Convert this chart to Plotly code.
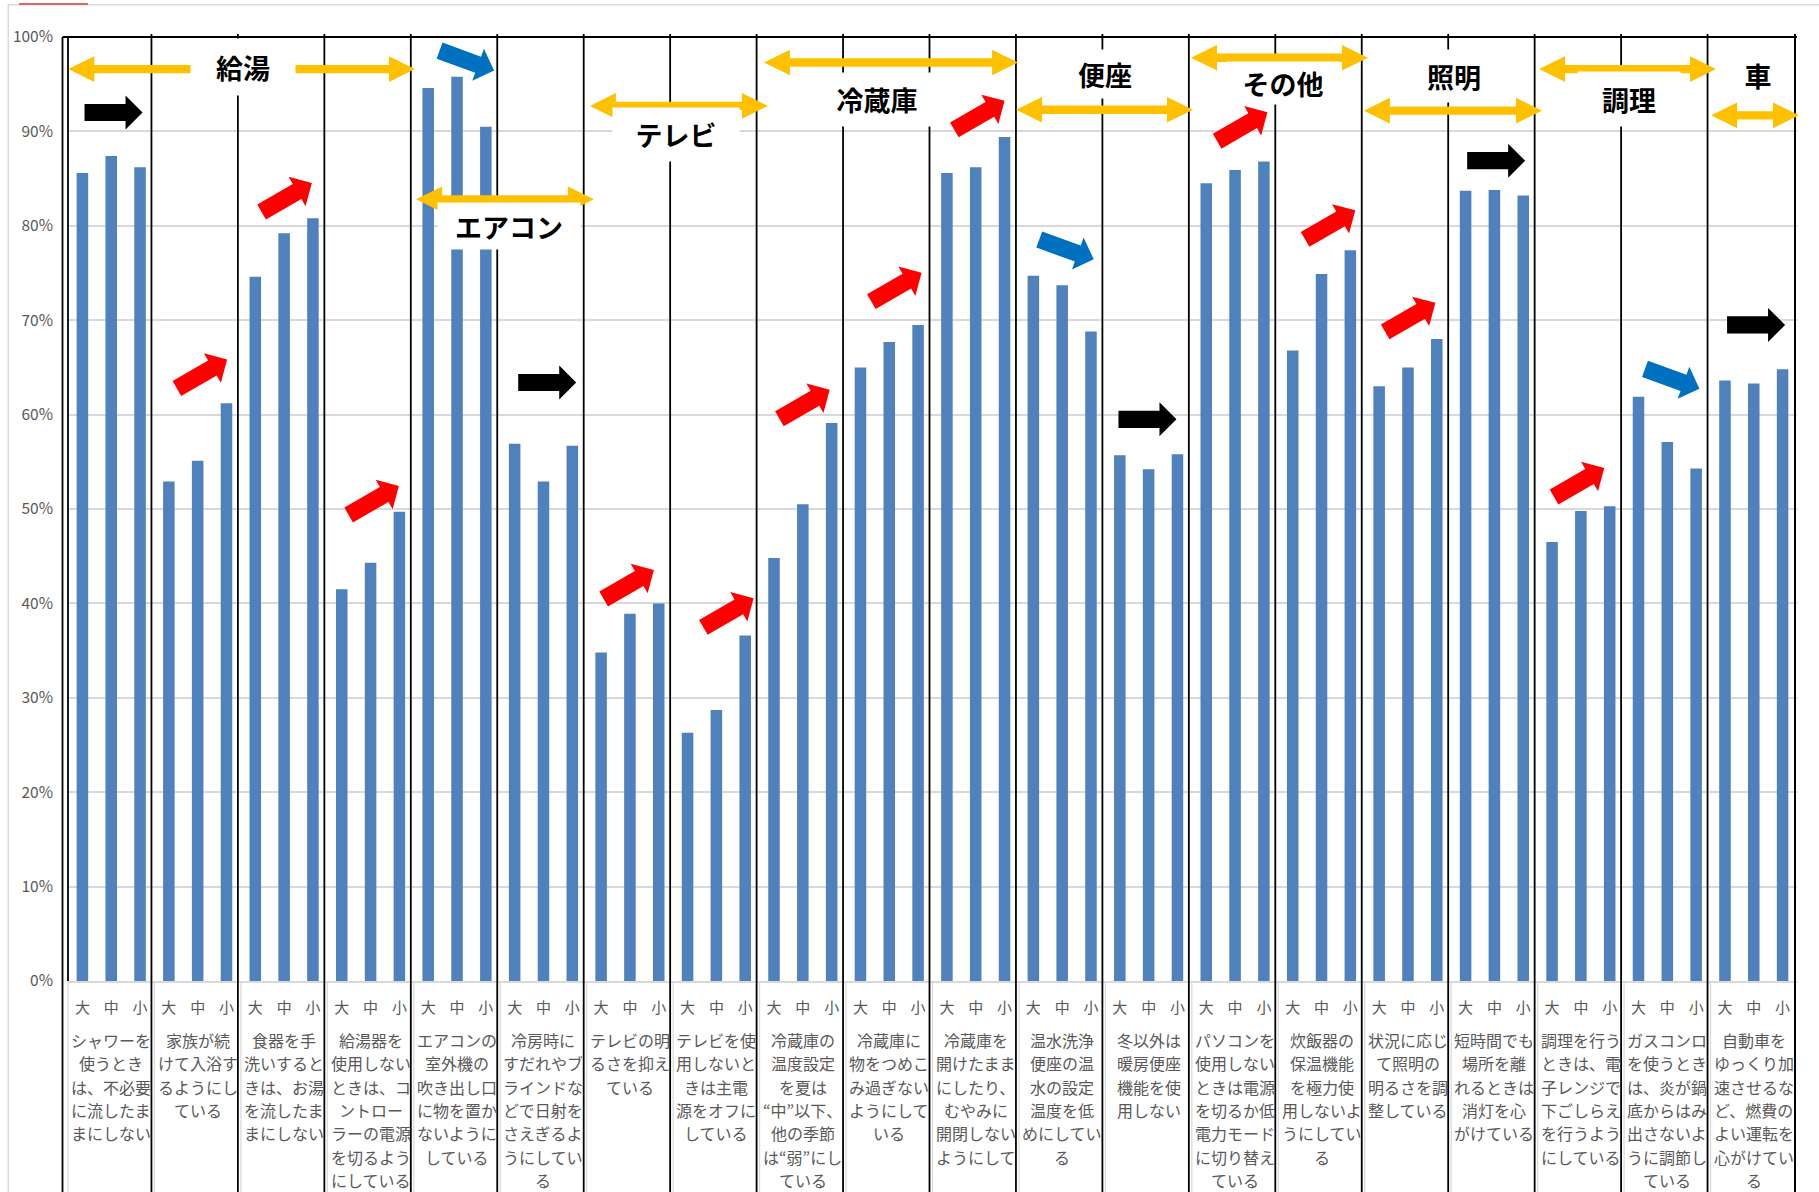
import math
import plotly.graph_objects as go

# ---------------- data ----------------
sizes = ["大", "中", "小"]

actions = [
    "シャワーを<br>使うとき<br>は、不必要<br>に流したま<br>まにしない",
    "家族が続<br>けて入浴す<br>るようにし<br>ている",
    "食器を手<br>洗いすると<br>きは、お湯<br>を流したま<br>まにしない",
    "給湯器を<br>使用しない<br>ときは、コ<br>ントロー<br>ラーの電源<br>を切るよう<br>にしている",
    "エアコンの<br>室外機の<br>吹き出し口<br>に物を置か<br>ないように<br>している",
    "冷房時に<br>すだれやブ<br>ラインドな<br>どで日射を<br>さえぎるよ<br>うにしてい<br>る",
    "テレビの明<br>るさを抑え<br>ている",
    "テレビを使<br>用しないと<br>きは主電<br>源をオフに<br>している",
    "冷蔵庫の<br>温度設定<br>を夏は<br>“中”以下、<br>他の季節<br>は“弱”にし<br>ている",
    "冷蔵庫に<br>物をつめこ<br>み過ぎない<br>ようにして<br>いる",
    "冷蔵庫を<br>開けたまま<br>にしたり、<br>むやみに<br>開閉しない<br>ようにして",
    "温水洗浄<br>便座の温<br>水の設定<br>温度を低<br>めにしてい<br>る",
    "冬以外は<br>暖房便座<br>機能を使<br>用しない",
    "パソコンを<br>使用しない<br>ときは電源<br>を切るか低<br>電力モード<br>に切り替え<br>ている",
    "炊飯器の<br>保温機能<br>を極力使<br>用しないよ<br>うにしてい<br>る",
    "状況に応じ<br>て照明の<br>明るさを調<br>整している",
    "短時間でも<br>場所を離<br>れるときは<br>消灯を心<br>がけている",
    "調理を行う<br>ときは、電<br>子レンジで<br>下ごしらえ<br>を行うよう<br>にしている",
    "ガスコンロ<br>を使うとき<br>は、炎が鍋<br>底からはみ<br>出さないよ<br>うに調節し<br>ている",
    "自動車を<br>ゆっくり加<br>速させるな<br>ど、燃費の<br>よい運転を<br>心がけてい<br>る",
]

values_large = [85.6, 52.9, 74.6, 41.5, 94.6, 56.9, 34.8, 26.3, 44.8, 65.0,
                85.6, 74.7, 55.7, 84.5, 66.8, 63.0, 83.7, 46.5, 61.9, 63.6]
values_medium = [87.4, 55.1, 79.2, 44.3, 95.8, 52.9, 38.9, 28.7, 50.5, 67.7,
                 86.2, 73.7, 54.2, 85.9, 74.9, 65.0, 83.8, 49.8, 57.1, 63.3]
values_small = [86.2, 61.2, 80.8, 49.7, 90.5, 56.7, 40.0, 36.6, 59.1, 69.5,
                89.4, 68.8, 55.8, 86.8, 77.4, 68.0, 83.2, 50.3, 54.3, 64.8]

# appliance categories: label, arrow span (x from, x to, y), label position (x, y)
category_names = ["給湯", "エアコン", "テレビ", "冷蔵庫", "便座", "その他", "照明", "調理", "車"]
category_arrow_spans = [(-0.49, 11.54, 96.6), (11.58, 17.75, 82.8), (17.61, 23.79, 92.7),
                        (23.65, 32.47, 97.3), (32.40, 38.54, 92.3), (38.47, 44.61, 97.8),
                        (44.47, 50.65, 92.2), (50.55, 56.69, 96.6), (56.52, 59.57, 91.7)]
category_label_pos = [(5.57, 96.8), (14.80, 80.0), (20.60, 89.7), (27.57, 93.4), (35.49, 96.1),
                      (41.66, 95.1), (47.60, 95.9), (53.67, 93.4), (58.15, 96.0)]
category_label_box = [(102, 54), (140, 44), (124, 51), (114, 51), (90, 46),
                      (110, 40), (100, 50), (100, 52), (50, 46)]

# trend arrows: (x centre, y centre, trend)
trend_arrows = [
    (1.08, 92.0, "flat"), (4.15, 64.3, "up"), (7.09, 83.0, "up"), (10.11, 50.9, "up"),
    (13.34, 97.5, "down"), (16.13, 63.4, "flat"), (18.96, 42.0, "up"), (22.42, 39.0, "up"),
    (25.06, 61.1, "up"), (28.25, 73.5, "up"), (31.13, 91.7, "up"), (34.15, 77.5, "down"),
    (36.96, 59.5, "flat"), (40.25, 90.5, "up"), (43.30, 80.1, "up"), (46.08, 70.3, "up"),
    (49.06, 86.9, "flat"), (51.94, 52.8, "up"), (55.17, 63.8, "down"), (58.08, 69.5, "flat"),
]

# ---------------- layout geometry ----------------
W, H = 1819, 1192
ML, MR, MT, MB = 68, 22, 37, 211
PW, PH = W - ML - MR, H - MT - MB
XMIN, XMAX = -0.5, 59.5
FONT = "Noto Sans CJK JP"
GRAY_TXT = "#595959"


def px_x(xd):
    return ML + (xd - XMIN) / (XMAX - XMIN) * PW


def px_y(yd):
    return MT + (100 - yd) / 100 * PH


def paper_x(px):
    return (px - ML) / PW


def paper_y(py):
    return (H - MB - py) / PH


shapes = []
annotations = []


def vline(px, py0, py1, color, width):
    shapes.append(dict(type="line", xref="paper", yref="paper",
                       x0=paper_x(px), x1=paper_x(px), y0=paper_y(py0), y1=paper_y(py1),
                       line=dict(color=color, width=width), layer="above"))


def poly(points, color):
    path = ""
    for i, (X, Y) in enumerate(points):
        path += ("M" if i == 0 else "L") + f"{paper_x(X):.5f},{paper_y(Y):.5f}"
    path += "Z"
    shapes.append(dict(type="path", xref="paper", yref="paper", path=path,
                       fillcolor=color, line=dict(width=0), layer="above"))


def block_arrow(xd, yd, angle, color, L=58, sw=8.6, hw=17, hl=17):
    cx, cy = px_x(xd), px_y(yd)
    a = math.radians(angle)
    base = [(-L / 2, -sw), (L / 2 - hl, -sw), (L / 2 - hl, -hw), (L / 2, 0),
            (L / 2 - hl, hw), (L / 2 - hl, sw), (-L / 2, sw)]
    pts = []
    for u, v in base:
        dx = u * math.cos(a) - v * math.sin(a)
        dy = u * math.sin(a) + v * math.cos(a)
        pts.append((cx + dx, cy - dy))
    poly(pts, color)


def double_arrow(x1d, x2d, yd, color="#FFC000", sw=4.2, hw=12.8, hl=26):
    x1, x2, y = px_x(x1d), px_x(x2d), px_y(yd)
    pts = [(x1, y), (x1 + hl, y - hw), (x1 + hl, y - sw), (x2 - hl, y - sw), (x2 - hl, y - hw),
           (x2, y), (x2 - hl, y + hw), (x2 - hl, y + sw), (x1 + hl, y + sw), (x1 + hl, y + hw)]
    poly(pts, color)


# outer chart border and small red mark
shapes.append(dict(type="rect", xref="paper", yref="paper",
                   x0=paper_x(8.3), x1=paper_x(W + 20), y0=paper_y(4.7), y1=paper_y(H + 20),
                   line=dict(color="#D9D9D9", width=1.5), fillcolor="rgba(0,0,0,0)", layer="below"))
shapes.append(dict(type="line", xref="paper", yref="paper",
                   x0=paper_x(19), x1=paper_x(88), y0=paper_y(4), y1=paper_y(4),
                   line=dict(color="#E06666", width=2), layer="above"))

# group separators
n_groups = len(actions)
for g in range(n_groups + 1):
    bx = px_x(3 * g - 0.5)
    if g == 0:
        vline(bx, MT, H - MB, "#000000", 1.8)
        vline(bx, H - MB, H, "#D9D9D9", 1.2)
    elif g == n_groups:
        vline(bx - 2, MT - 3, H, "#000000", 2)
    else:
        vline(bx, H - MB, H, "#D9D9D9", 1.2)
        vline(bx - 3, MT - 3, H, "#000000", 1.8)
# left line and top line
vline(62.5, MT, H, "#000000", 1.8)
shapes.append(dict(type="line", xref="paper", yref="paper",
                   x0=paper_x(62.5), x1=paper_x(px_x(XMAX)), y0=1, y1=1,
                   line=dict(color="#000000", width=1.8), layer="above"))

# category double arrows + labels
for name, (x1, x2, ya), (lx, ly), (bw, bh) in zip(category_names, category_arrow_spans,
                                                 category_label_pos, category_label_box):
    double_arrow(x1, x2, ya)
    annotations.append(dict(text=f"<b>{name}</b>", xref="paper", yref="paper",
                            x=paper_x(px_x(lx)), y=paper_y(px_y(ly)), xanchor="center", yanchor="middle",
                            showarrow=False, bgcolor="#FFFFFF", width=bw, height=bh,
                            font=dict(family=FONT, size=27, color="#000000")))

# trend arrows
trend_style = {"flat": (0, "#000000"), "up": (30, "#FF0000"), "down": (-20, "#0070C0")}
for xd, yd, trend in trend_arrows:
    ang, col = trend_style[trend]
    block_arrow(xd, yd, ang, col)

# action descriptions under the axis
for g, txt in enumerate(actions):
    cx = px_x(3 * g + 1)
    for k, line in enumerate(txt.split("<br>")):
        annotations.append(dict(text=line, xref="paper", yref="paper",
                                x=paper_x(cx), y=paper_y(1040 + 23.3 * k),
                                xanchor="center", yanchor="middle", showarrow=False,
                                font=dict(family=FONT, size=16, color=GRAY_TXT)))

# ---------------- bars ----------------
xs, ys, labels = [], [], []
series = [values_large, values_medium, values_small]
for g in range(n_groups):
    for k in range(3):
        xs.append(3 * g + k)
        ys.append(series[k][g])
        labels.append(sizes[k])

fig = go.Figure(go.Bar(x=xs, y=ys, width=0.4, marker=dict(color="#4F81BD", line=dict(width=0)),
                       hovertemplate="%{y:.1f}%<extra></extra>"))

fig.update_layout(
    width=W, height=H,
    margin=dict(l=ML, r=MR, t=MT, b=MB, pad=0),
    paper_bgcolor="#FFFFFF", plot_bgcolor="#FFFFFF",
    showlegend=False,
    font=dict(family=FONT, color=GRAY_TXT),
    shapes=shapes, annotations=annotations,
    xaxis=dict(range=[XMIN, XMAX], tickvals=xs, ticktext=labels, showgrid=False, zeroline=False,
               showline=True, linecolor="#D9D9D9", linewidth=1.5, ticks="",
               tickfont=dict(family=FONT, size=15, color=GRAY_TXT), ticklabelstandoff=12,
               fixedrange=True),
    yaxis=dict(range=[0, 100], dtick=10, ticksuffix="%", showgrid=True, gridcolor="#D9D9D9",
               gridwidth=1.5, zeroline=False, showline=False, ticks="",
               tickfont=dict(family=FONT, size=15.5, color=GRAY_TXT), ticklabelstandoff=14,
               fixedrange=True),
)

fig.write_html("out.html")
